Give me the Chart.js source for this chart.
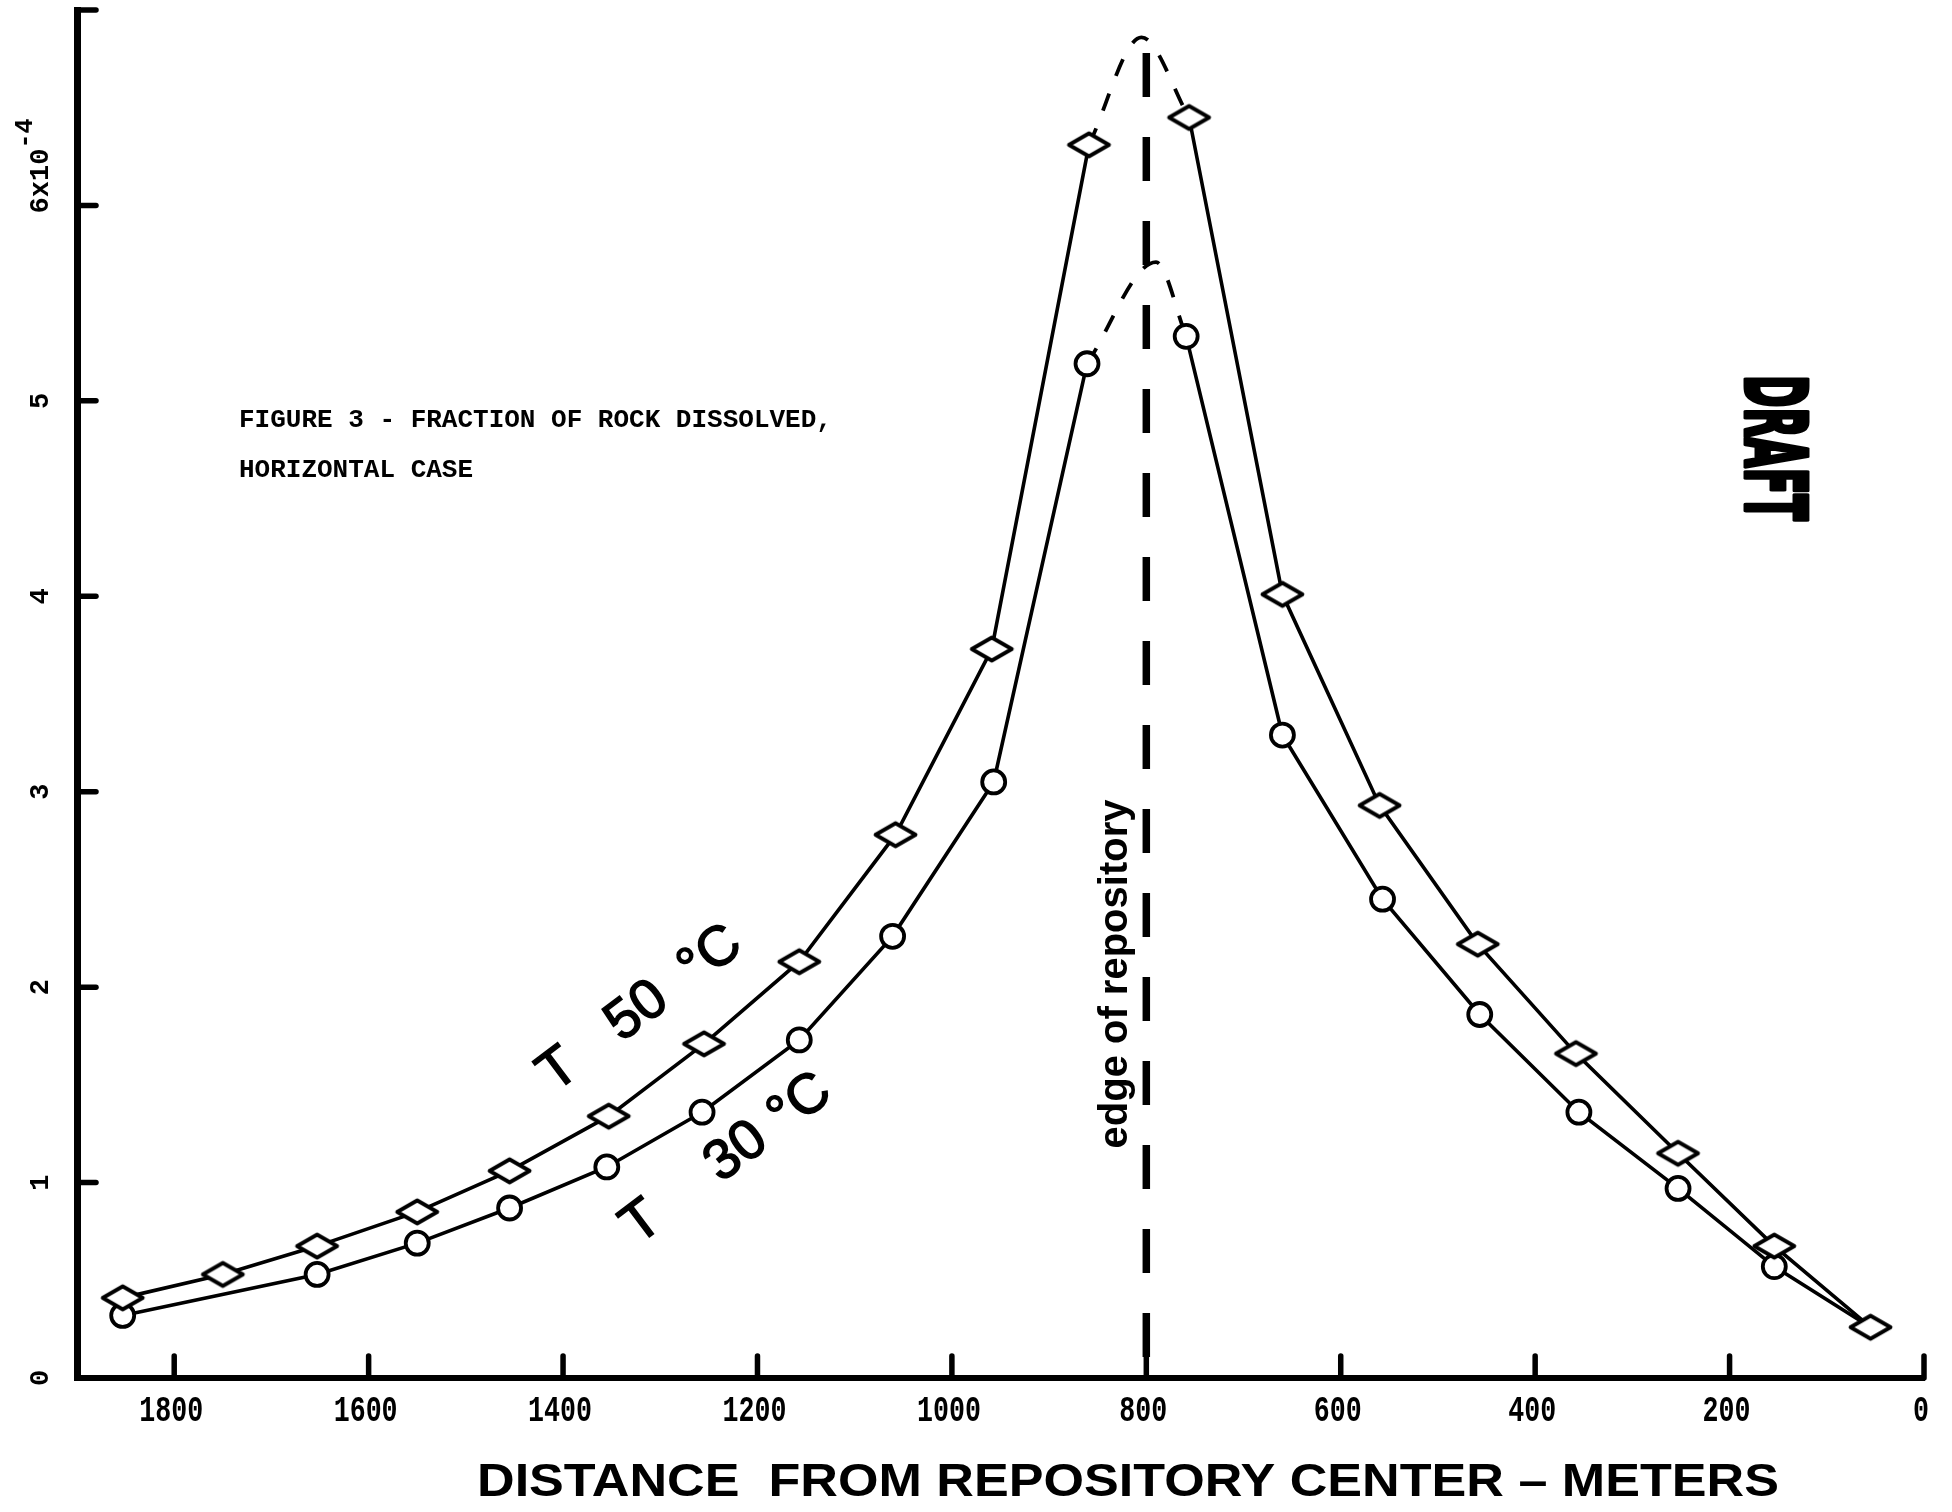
<!DOCTYPE html>
<html>
<head>
<meta charset="utf-8">
<title>Figure 3 - Fraction of rock dissolved, horizontal case</title>
<script src="https://cdn.jsdelivr.net/npm/chart.js@4.4.1/dist/chart.umd.min.js"></script>
<style>
  html, body { margin: 0; padding: 0; background: #fff; }
  canvas { display: block; }
</style>
</head>
<body>
<canvas id="chart" width="1952" height="1512"></canvas>
<script>
// Distance from repository center (m) and fraction of rock dissolved (x 10^-4)
const t50Distance = [1853, 1750, 1653, 1550, 1455, 1353, 1255, 1157, 1058, 959, 859, 756, 660, 560, 459, 358, 253, 154, 55];
const t50Fraction = [0.41, 0.53, 0.675, 0.85, 1.06, 1.34, 1.71, 2.13, 2.78, 3.73, 6.31, 6.45, 4.01, 2.93, 2.22, 1.66, 1.15, 0.675, 0.26];

const t30Distance = [1853, 1653, 1550, 1455, 1355, 1257, 1157, 1061, 957, 861, 759, 660, 557, 457, 355, 253, 154, 55];
const t30Fraction = [0.32, 0.53, 0.69, 0.87, 1.08, 1.36, 1.73, 2.26, 3.05, 5.19, 5.33, 3.29, 2.45, 1.86, 1.36, 0.97, 0.57, 0.26];

// dashed caps drawn over the edge of the repository
const t50PeakDistance = [859, 805, 756];
const t50PeakFraction = [6.31, 6.86, 6.45];
const t30PeakDistance = [861, 790, 759];
const t30PeakFraction = [5.19, 5.71, 5.33];

// edge of repository marker line
const edgeDistance = [800, 800];
const edgeFraction = [6.78, 0];

// axis ticks and labels
const xTicks = [1800, 1600, 1400, 1200, 1000, 800, 600, 400, 200, 0];
const xTickLabels = ['1800', '1600', '1400', '1200', '1000', '800', '600', '400', '200', '0'];
const yTicks = [0, 1, 2, 3, 4, 5, 6, 7];
const yTickLabels = ['0', '1', '2', '3', '4', '5', '6x10', ''];
const yExponent = '-4';

const black = '#000';

// flattened diamond marker used for the 50 C curve
function makeDiamond(w, h, lw) {
    const c = document.createElement('canvas');
    c.width = w + lw * 2;
    c.height = h + lw * 2;
    const g = c.getContext('2d');
    const cx = c.width / 2, cy = c.height / 2;
    g.beginPath();
    g.moveTo(cx - w / 2, cy);
    g.lineTo(cx, cy - h / 2);
    g.lineTo(cx + w / 2, cy);
    g.lineTo(cx, cy + h / 2);
    g.closePath();
    g.fillStyle = '#fff';
    g.fill();
    g.lineWidth = lw;
    g.lineJoin = 'round';
    g.strokeStyle = black;
    g.stroke();
    return c;
}

const diamond = makeDiamond(40, 23, 3.8);

const toPoints = (xs, ys) => xs.map((x, i) => ({ x: x, y: ys[i] }));

// the solid curves break where they cross the repository edge
const hideEdgeGap = ctx => (ctx.p0.parsed.x > 800 && ctx.p1.parsed.x < 800) ? 'rgba(0,0,0,0)' : black;

function drawSquashed(ctx, text, x, y, font, sx) {
    ctx.save();
    ctx.translate(x, y);
    ctx.scale(sx, 1);
    ctx.font = font;
    ctx.textAlign = 'center';
    ctx.textBaseline = 'middle';
    ctx.fillText(text, 0, 0);
    ctx.restore();
}

function drawTempLabel(ctx, parts, offsets, x, y, angle) {
    ctx.save();
    ctx.translate(x, y);
    ctx.rotate(angle);
    ctx.font = '56px "Liberation Sans", Arial, sans-serif';
    ctx.textAlign = 'center';
    ctx.textBaseline = 'middle';
    ctx.lineWidth = 1.5;
    parts.forEach((p, i) => {
        ctx.fillText(p, offsets[i], 0);
        ctx.strokeText(p, offsets[i], 0);
    });
    ctx.restore();
}

const figureDecor = {
    id: 'figureDecor',
    afterDraw(chart) {
        const { ctx, scales: { x, y } } = chart;
        ctx.save();
        ctx.fillStyle = black;
        ctx.strokeStyle = black;
        ctx.lineCap = 'round';

        // ticks point inward
        ctx.lineWidth = 5.5;
        xTicks.forEach(v => {
            const px = x.getPixelForValue(v);
            ctx.beginPath();
            ctx.moveTo(px, y.bottom);
            ctx.lineTo(px, y.bottom - 22);
            ctx.stroke();
        });
        yTicks.slice(1).forEach(v => {
            const py = y.getPixelForValue(v);
            ctx.beginPath();
            ctx.moveTo(x.left, py);
            ctx.lineTo(x.left + 19, py);
            ctx.stroke();
        });

        // x tick labels
        xTicks.forEach((v, i) => {
            drawSquashed(ctx, xTickLabels[i], x.getPixelForValue(v) - 3, 1412,
                'bold 36px "Liberation Mono", monospace', 0.74);
        });

        // y tick labels, turned to read upward
        yTicks.forEach((v, i) => {
            const label = yTickLabels[i];
            if (!label) return;
            const py = y.getPixelForValue(v);
            ctx.save();
            ctx.translate(48, py);
            ctx.rotate(-Math.PI / 2);
            ctx.font = 'bold 27px "Liberation Mono", monospace';
            ctx.textBaseline = 'alphabetic';
            if (label.length > 1) {
                ctx.textAlign = 'left';
                ctx.fillText(label, -8, 0);
                const w = ctx.measureText(label).width;
                ctx.font = 'bold 25px "Liberation Mono", monospace';
                ctx.fillText(yExponent, w - 8, -16);
            } else {
                ctx.textAlign = 'center';
                ctx.fillText(label, 0, 0);
            }
            ctx.restore();
        });

        // figure caption
        ctx.font = 'bold 26px "Liberation Mono", monospace';
        ctx.textAlign = 'left';
        ctx.textBaseline = 'middle';
        ctx.fillText('FIGURE 3 - FRACTION OF ROCK DISSOLVED,', 239, 420);
        ctx.fillText('HORIZONTAL CASE', 239, 470);

        // curve labels
        const tilt = -37 * Math.PI / 180;
        drawTempLabel(ctx, ['T', '50', '\u00b0C'], [-94, 4, 96], 634, 1014, tilt);
        drawTempLabel(ctx, ['T', '30', '\u00b0C'], [-100, 18, 98], 722, 1163, tilt);

        // edge of repository
        ctx.save();
        ctx.translate(1116, 974);
        ctx.rotate(-Math.PI / 2);
        ctx.font = 'bold 40px "Liberation Sans", Arial, sans-serif';
        ctx.textAlign = 'center';
        ctx.textBaseline = 'alphabetic';
        ctx.fillText('edge of repository', 0, 11);
        ctx.restore();

        // DRAFT stamp
        ctx.save();
        ctx.translate(1768, 448);
        ctx.rotate(Math.PI / 2);
        ctx.font = 'bold 84px "DejaVu Sans", "Liberation Sans", sans-serif';
        const dw = ctx.measureText('DRAFT').width;
        ctx.scale(146 / dw, 1);
        ctx.textAlign = 'center';
        ctx.textBaseline = 'middle';
        ctx.lineWidth = 5;
        ctx.lineJoin = 'round';
        ctx.fillText('DRAFT', 0, 0);
        ctx.strokeText('DRAFT', 0, 0);
        ctx.restore();

        // axis title
        ctx.save();
        ctx.font = 'bold 47px "Liberation Sans", Arial, sans-serif';
        const title = 'DISTANCE  FROM REPOSITORY CENTER \u2013 METERS';
        const tw = ctx.measureText(title).width;
        ctx.restore();
        drawSquashed(ctx, title, 1128, 1483, 'bold 47px "Liberation Sans", Arial, sans-serif', 1302 / tw);

        ctx.restore();
    }
};

new Chart(document.getElementById('chart'), {
    type: 'line',
    data: {
        datasets: [
            {
                label: 'T 50 \u00b0C',
                data: toPoints(t50Distance, t50Fraction),
                borderColor: black,
                borderWidth: 3.6,
                pointStyle: diamond,
                pointRadius: 12,
                segment: { borderColor: hideEdgeGap }
            },
            {
                label: 'T 30 \u00b0C',
                data: toPoints(t30Distance, t30Fraction),
                borderColor: black,
                borderWidth: 3.6,
                pointStyle: 'circle',
                pointRadius: ctx => ctx.dataIndex === t30Distance.length - 1 ? 0 : 11.5,
                pointBorderWidth: 3.8,
                pointBorderColor: black,
                pointBackgroundColor: '#fff',
                segment: { borderColor: hideEdgeGap }
            },
            {
                label: 'T 50 peak',
                data: toPoints(t50PeakDistance, t50PeakFraction),
                borderColor: black,
                borderWidth: 3.8,
                borderDash: [18, 19],
                cubicInterpolationMode: 'monotone',
                pointRadius: 0
            },
            {
                label: 'T 30 peak',
                data: toPoints(t30PeakDistance, t30PeakFraction),
                borderColor: black,
                borderWidth: 3.8,
                borderDash: [18, 19],
                cubicInterpolationMode: 'monotone',
                pointRadius: 0
            },
            {
                label: 'edge of repository',
                data: toPoints(edgeDistance, edgeFraction),
                borderColor: black,
                borderWidth: 7.5,
                borderDash: [44, 40],
                pointRadius: 0
            }
        ]
    },
    options: {
        responsive: false,
        animation: false,
        layout: { autoPadding: false, padding: { top: 10, right: 28, left: 0, bottom: 0 } },
        plugins: { legend: { display: false }, tooltip: { enabled: false } },
        scales: {
            x: {
                type: 'linear',
                reverse: true,
                min: 0,
                max: 1900,
                grid: { display: false },
                border: { display: true, width: 6, color: black },
                ticks: { display: false },
                afterFit: s => { s.height = 134; }
            },
            y: {
                min: 0,
                max: 7,
                grid: { display: false },
                border: { display: true, width: 7, color: black },
                ticks: { display: false },
                afterFit: s => { s.width = 77; }
            }
        }
    },
    plugins: [figureDecor]
});
</script>
</body>
</html>
